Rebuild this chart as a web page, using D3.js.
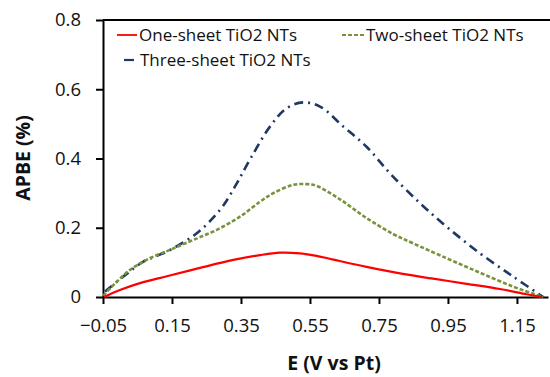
<!DOCTYPE html>
<html>
<head>
<meta charset="utf-8">
<script src="https://cdn.jsdelivr.net/npm/d3@7"></script>
<style>
body { margin:0; background:#fff; }
svg { font-family: "Open Sans", "Noto Sans", sans-serif; }
</style>
</head>
<body>
<div id="chart"></div>
<script>
// potential (V vs Pt) and APBE (%)
var oneX = [-0.047, -0.001, 0.057, 0.135, 0.231, 0.328, 0.405, 0.463, 0.521, 0.569, 0.618, 0.714, 0.811, 0.907, 1.004, 1.1, 1.178, 1.222];
var oneY = [0, 0.02, 0.04, 0.06, 0.084, 0.107, 0.121, 0.128, 0.126, 0.119, 0.108, 0.087, 0.068, 0.053, 0.038, 0.023, 0.008, 0];

var twoX = [-0.049, -0.01, 0.028, 0.086, 0.144, 0.212, 0.28, 0.347, 0.405, 0.444, 0.502, 0.54, 0.569, 0.637, 0.714, 0.791, 0.849, 0.946, 1.043, 1.139, 1.207, 1.226];
var twoY = [0.004, 0.044, 0.078, 0.112, 0.136, 0.165, 0.194, 0.232, 0.275, 0.3, 0.324, 0.326, 0.321, 0.282, 0.228, 0.182, 0.155, 0.112, 0.07, 0.03, 0.006, 0];

var threeX = [-0.044, 0.009, 0.067, 0.135, 0.183, 0.222, 0.26, 0.3, 0.34, 0.38, 0.434, 0.482, 0.53, 0.579, 0.647, 0.714, 0.782, 0.869, 0.946, 1.043, 1.139, 1.226];
var threeY = [0.016, 0.059, 0.102, 0.131, 0.158, 0.184, 0.219, 0.266, 0.332, 0.404, 0.492, 0.545, 0.562, 0.55, 0.492, 0.434, 0.357, 0.271, 0.203, 0.126, 0.059, 0];

var xTicks = [-0.05, 0.15, 0.35, 0.55, 0.75, 0.95, 1.15];
var yTicks = [0, 0.2, 0.4, 0.6, 0.8];
var names = ["One-sheet TiO2 NTs", "Two-sheet TiO2 NTs", "Three-sheet TiO2 NTs"];

var w = 550, h = 377;
var margins = {top:20, bottom:80, left:103, right:2};

var svg = d3.select("#chart").append("svg")
  .attr("width", w)
  .attr("height", h);

var xScale = d3.scaleLinear()
  .domain([-0.05, 1.24])
  .range([margins.left, w - margins.right]);
var yScale = d3.scaleLinear()
  .domain([0, 0.8])
  .range([h - margins.bottom, margins.top]);

var xAxis = d3.axisBottom(xScale)
  .tickValues(xTicks)
  .tickFormat(d3.format(".2f"))
  .tickSize(7)
  .tickSizeOuter(0)
  .tickPadding(15);
var yAxis = d3.axisLeft(yScale)
  .tickValues(yTicks)
  .tickFormat(function(d){ return d == 0 ? "0" : d3.format(".1f")(d); })
  .tickSize(7)
  .tickSizeOuter(0)
  .tickPadding(15);

var gx = svg.append("g")
  .attr("transform", "translate(0," + yScale(0) + ")")
  .call(xAxis);
var gy = svg.append("g")
  .attr("transform", "translate(" + margins.left + ",0)")
  .call(yAxis);

[gx, gy].forEach(function(g){
  g.selectAll("path, line").attr("stroke", "#000").attr("stroke-width", 2);
  g.selectAll("text").attr("font-size", 18.5).attr("fill", "#111")
    .attr("font-family", "'Open Sans', sans-serif");
});

// top frame line
svg.append("line")
  .attr("x1", xScale(-0.05)).attr("x2", w)
  .attr("y1", yScale(0.8)).attr("y2", yScale(0.8))
  .attr("stroke", "#000").attr("stroke-width", 2);

var line = d3.line()
  .x(function(d){ return xScale(d[0]); })
  .y(function(d){ return yScale(d[1]); })
  .curve(d3.curveCatmullRom.alpha(0.5));

function pairs(xs, ys){ return xs.map(function(x, i){ return [x, ys[i]]; }); }

var series = [
  {data: pairs(oneX, oneY), color: "#ff0000", dash: null, width: 2.2},
  {data: pairs(twoX, twoY), color: "#77933c", dash: "4,2", width: 2.6},
  {data: pairs(threeX, threeY), color: "#1f3864", dash: "9,5,2,5", width: 2.6}
];

// navy first, then green, then red on top
[2, 1, 0].forEach(function(i){
  var s = series[i];
  svg.append("path")
    .datum(s.data)
    .attr("fill", "none")
    .attr("stroke", s.color)
    .attr("stroke-width", s.width)
    .attr("stroke-dasharray", s.dash)
    .attr("d", line);
});

// legend
var legend = svg.append("g").attr("font-size", 17).attr("fill", "#111");
var leg = [
  {x1:117, x2:137, y:35, tx:139},
  {x1:342, x2:364, y:35, tx:366},
  {x1:124, x2:137, y:60, tx:140}
];
leg.forEach(function(l, i){
  legend.append("line")
    .attr("x1", l.x1).attr("x2", l.x2)
    .attr("y1", l.y).attr("y2", l.y)
    .attr("stroke", series[i].color)
    .attr("stroke-width", series[i].width - 0.4)
    .attr("stroke-dasharray", i == 1 ? "4,2" : (i == 2 ? "10,3,2,3" : null));
  legend.append("text")
    .attr("x", l.tx).attr("y", l.y)
    .attr("dy", "0.35em")
    .text(names[i]);
});

// axis titles
svg.append("text")
  .attr("x", 334).attr("y", 370)
  .attr("text-anchor", "middle")
  .attr("font-weight", "bold")
  .attr("font-size", 19.5)
  .attr("fill", "#111")
  .text("E (V vs Pt)");

svg.append("text")
  .attr("transform", "translate(30,158) rotate(-90)")
  .attr("text-anchor", "middle")
  .attr("font-weight", "bold")
  .attr("font-size", 19.5)
  .attr("fill", "#111")
  .text("APBE (%)");
</script>
</body>
</html>
